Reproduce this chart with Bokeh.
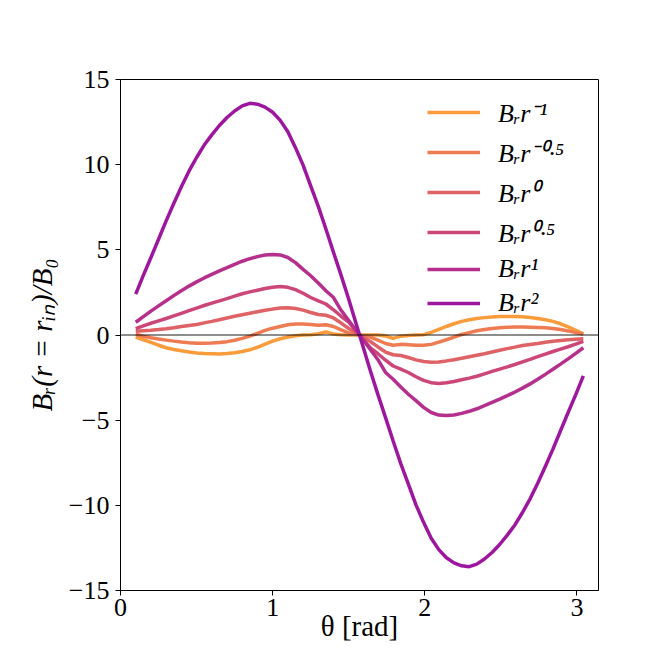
from bokeh.plotting import figure
from bokeh.models import Range1d, FixedTicker, Span, Legend, LegendItem, ColumnDataSource
from bokeh.embed import file_html
from bokeh.resources import INLINE

theta = [0.1, 0.15, 0.2, 0.25, 0.3, 0.35, 0.4, 0.45, 0.5, 0.55, 0.6, 0.65, 0.7, 0.75, 0.8, 0.85, 0.9, 0.95,
         1.0, 1.05, 1.1, 1.15, 1.2, 1.25, 1.3, 1.35, 1.4, 1.45, 1.5,
         1.571,
         1.642, 1.692, 1.742, 1.792, 1.842, 1.892, 1.942, 1.992, 2.042, 2.092, 2.142, 2.192, 2.242, 2.292,
         2.342, 2.392, 2.442, 2.492, 2.542, 2.592, 2.642, 2.692, 2.742, 2.792, 2.842, 2.892, 2.942, 2.992, 3.042]

br_rm1 = [-0.12, -0.28, -0.43, -0.6, -0.75, -0.85, -0.93, -1.0, -1.06, -1.09, -1.1, -1.11, -1.09, -1.04, -0.97, -0.87, -0.72, -0.54,
          -0.36, -0.22, -0.12, -0.05, 0.0, 0.02, 0.07, 0.18, 0.06, 0.01, 0.0,
          0.0,
          0.0, 0.0, -0.06, -0.2, -0.07, -0.03, 0.0, 0.02, 0.15, 0.33, 0.5, 0.66, 0.8, 0.9,
          0.97, 1.02, 1.06, 1.08, 1.09, 1.09, 1.07, 1.03, 0.97, 0.89, 0.8, 0.66, 0.48, 0.28, 0.07]

br_rm05 = [0.04, -0.07, -0.16, -0.24, -0.3, -0.36, -0.41, -0.45, -0.48, -0.48, -0.47, -0.44, -0.39, -0.31, -0.2, -0.07, 0.1, 0.27,
           0.4, 0.5, 0.6, 0.64, 0.64, 0.62, 0.57, 0.6, 0.5, 0.3, 0.12,
           0.0,
           -0.12, -0.3, -0.5, -0.6, -0.55, -0.57, -0.6, -0.6, -0.55, -0.42, -0.28, -0.12, 0.03, 0.14,
           0.25, 0.32, 0.38, 0.42, 0.45, 0.47, 0.47, 0.46, 0.44, 0.42, 0.38, 0.32, 0.24, 0.14, 0.05]

br_r0 = [0.22, 0.25, 0.28, 0.32, 0.37, 0.43, 0.5, 0.56, 0.62, 0.71, 0.8, 0.9, 1.0, 1.1, 1.19, 1.28, 1.37, 1.45,
         1.52, 1.58, 1.6, 1.56, 1.46, 1.32, 1.2, 1.16, 1.0, 0.7, 0.38,
         0.0,
         -0.38, -0.7, -1.0, -1.16, -1.2, -1.32, -1.46, -1.56, -1.6, -1.58, -1.52, -1.45, -1.37, -1.28,
         -1.19, -1.1, -1.0, -0.9, -0.8, -0.71, -0.62, -0.56, -0.5, -0.43, -0.37, -0.32, -0.28, -0.25, -0.22]

br_r05 = [0.38, 0.54, 0.69, 0.83, 0.97, 1.12, 1.27, 1.43, 1.58, 1.73, 1.87, 2.0, 2.14, 2.28, 2.42, 2.53, 2.63, 2.73,
          2.8, 2.85, 2.8, 2.66, 2.45, 2.2, 2.0, 1.82, 1.48, 1.1, 0.75,
          0.0,
          -0.75, -1.1, -1.48, -1.82, -2.0, -2.2, -2.45, -2.66, -2.8, -2.85, -2.8, -2.73, -2.63, -2.53,
          -2.42, -2.28, -2.14, -2.0, -1.87, -1.73, -1.58, -1.43, -1.27, -1.12, -0.97, -0.83, -0.69, -0.54, -0.38]

br_r1 = [0.75, 1.08, 1.4, 1.71, 2.01, 2.31, 2.6, 2.87, 3.12, 3.35, 3.56, 3.76, 3.95, 4.15, 4.33, 4.48, 4.6, 4.7,
         4.73, 4.7, 4.55, 4.25, 3.85, 3.48, 3.05, 2.6, 2.2, 1.45, 0.85,
         0.0,
         -0.85, -1.45, -2.2, -2.6, -3.05, -3.48, -3.85, -4.25, -4.55, -4.7, -4.73, -4.7, -4.6, -4.48,
         -4.33, -4.15, -3.95, -3.76, -3.56, -3.35, -3.12, -2.87, -2.6, -2.31, -2.01, -1.71, -1.4, -1.08, -0.75]

br_r2 = [2.4, 3.5, 4.55, 5.62, 6.7, 7.72, 8.7, 9.62, 10.42, 11.15, 11.75, 12.3, 12.77, 13.15, 13.45, 13.6, 13.55, 13.38,
         13.08, 12.6, 11.93, 11.0, 9.97, 8.75, 7.55, 6.22, 4.85, 3.5, 2.1,
         0.0,
         -2.1, -3.5, -4.85, -6.22, -7.55, -8.75, -9.97, -11.0, -11.93, -12.6, -13.08, -13.38, -13.55, -13.6,
         -13.45, -13.15, -12.77, -12.3, -11.75, -11.15, -10.42, -9.62, -8.7, -7.72, -6.7, -5.62, -4.55, -3.5, -2.4]

series = [br_rm1, br_rm05, br_r0, br_r05, br_r1, br_r2]
labels = ["Bᵣr⁻¹", "Bᵣr⁻⁰·⁵", "Bᵣr⁰", "Bᵣr⁰·⁵", "Bᵣr¹", "Bᵣr²"]
colors = ["#fa9c3c", "#ee7b52", "#df6266", "#cc4778", "#b5308c", "#9c179e"]

x_ticks = [0, 1, 2, 3]
y_ticks = [-15, -10, -5, 0, 5, 10, 15]

FONT = "Liberation Serif"

p = figure(width=656, height=656, output_backend="svg", toolbar_location=None,
           x_range=Range1d(0, 3.1416), y_range=Range1d(-15, 15),
           min_border_left=120, min_border_right=58, min_border_top=79, min_border_bottom=66)
p.grid.visible = False
p.outline_line_color = "black"
p.outline_line_width = 1
p.background_fill_color = "white"
p.border_fill_color = "white"

for ax in (p.xaxis[0], p.yaxis[0]):
    ax.major_label_text_font = FONT
    ax.major_label_text_font_size = "26px"
    ax.major_label_text_color = "black"
    ax.axis_label_text_font = FONT
    ax.axis_label_text_font_size = "29px"
    ax.axis_label_text_font_style = "normal"
    ax.axis_label_text_color = "black"
    ax.major_tick_in = 0
    ax.major_tick_out = 5
    ax.minor_tick_in = 0
    ax.minor_tick_out = 0
    ax.axis_line_color = "black"
    ax.major_tick_line_color = "black"

p.xaxis.ticker = FixedTicker(ticks=x_ticks)
p.yaxis.ticker = FixedTicker(ticks=y_ticks)
p.yaxis.major_label_overrides = {t: (str(t).replace("-", "\u2212")) for t in y_ticks}
p.xaxis.major_label_overrides = {t: str(t) for t in x_ticks}
p.xaxis.axis_label = "θ [rad]"
p.yaxis.axis_label = "Bᵣ(r = rᵢₙ)/B₀"
p.yaxis.axis_label_text_font_style = "italic"
p.xaxis.major_label_standoff = 3
p.yaxis.major_label_standoff = 6
p.xaxis.axis_label_standoff = -9
p.yaxis.axis_label_standoff = 8

items = []
for ys, lab, col in zip(series, labels, colors):
    src = ColumnDataSource(data=dict(x=theta, y=ys))
    r = p.line("x", "y", source=src, line_color=col, line_width=3.5)
    items.append(LegendItem(label=lab, renderers=[r]))

p.add_layout(Span(location=0, dimension="width", line_color="black", line_alpha=0.6, line_width=1.5))

legend = Legend(items=items, location=(307, 272), orientation="vertical",
                label_text_font=FONT, label_text_font_size="26px", label_text_font_style="italic",
                label_text_color="black",
                glyph_width=53, glyph_height=30, label_height=30, spacing=4, label_standoff=18,
                padding=0, margin=0, border_line_color=None, background_fill_alpha=0)
p.add_layout(legend)

open("out.html", "w").write(file_html(p, INLINE))
